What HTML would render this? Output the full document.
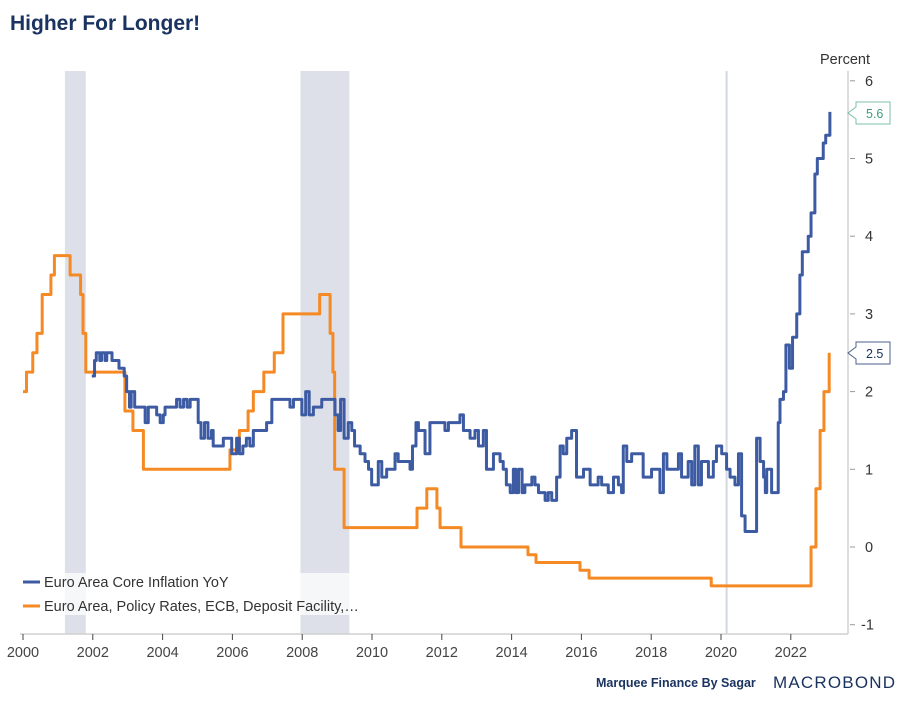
<!DOCTYPE html>
<html><head><meta charset="utf-8"><style>
body{margin:0;background:#fff;width:904px;height:704px;overflow:hidden;font-family:"Liberation Sans",sans-serif}
</style></head><body>
<svg id="chart" width="904" height="704" xmlns="http://www.w3.org/2000/svg" font-family="Liberation Sans, sans-serif">
<text x="10" y="30" font-size="21" font-weight="bold" fill="#1b3360">Higher For Longer!</text>
<g id="bands"></g>
<g id="axes"></g>
<g id="series"></g>
<g id="legend">
<line x1="23" y1="582" x2="40" y2="582" stroke="#3d5ba3" stroke-width="3"/>
<text x="44" y="587" font-size="14.5" fill="#333">Euro Area Core Inflation YoY</text>
<line x1="23" y1="606" x2="40" y2="606" stroke="#f58a25" stroke-width="3"/>
<text x="44" y="611" font-size="14.5" fill="#333">Euro Area, Policy Rates, ECB, Deposit Facility,…</text>
</g>
<text x="820" y="64" font-size="14.5" fill="#333">Percent</text>
<g>
<path d="M848,113 L856,107 L856,102 L890,102 L890,124 L856,124 L856,119 Z" fill="#fff" stroke="#7cc0a8"/>
<text x="866" y="118" font-size="12.5" fill="#3f9b7c">5.6</text>
</g>
<g>
<path d="M848,353 L856,347 L856,342 L890,342 L890,364 L856,364 L856,359 Z" fill="#fff" stroke="#4b5f8f"/>
<text x="866" y="358" font-size="12.5" fill="#1b3360">2.5</text>
</g>
<text x="596" y="687" font-size="12.5" font-weight="bold" fill="#1b3360">Marquee Finance By Sagar</text>
<text x="773" y="688" font-size="17" fill="#1b3360" letter-spacing="1.2">MACROBOND</text>
</svg>
<script>
const xTicks=[2000,2002,2004,2006,2008,2010,2012,2014,2016,2018,2020,2022];
const yTicks=[-1,0,1,2,3,4,5,6];
const recessions=[[2001.2,2001.8],[2007.95,2009.35]];
const markerYear=[2020.16];
const coreYears=[2001.97,2002.05,2002.1,2002.2,2002.25,2002.35,2002.4,2002.55,2002.75,2002.9,2002.97,2003.05,2003.1,2003.2,2003.31,2003.5,2003.59,2003.83,2003.93,2004.02,2004.07,2004.4,2004.5,2004.6,2004.7,2004.79,2005.02,2005.1,2005.2,2005.3,2005.4,2005.45,2005.74,2005.98,2006.12,2006.2,2006.3,2006.4,2006.5,2006.6,2006.98,2007.13,2007.65,2007.75,2007.99,2008.1,2008.2,2008.32,2008.45,2008.56,2008.94,2009.03,2009.1,2009.2,2009.32,2009.42,2009.5,2009.66,2009.8,2009.9,2009.99,2010.18,2010.28,2010.42,2010.66,2010.75,2011.09,2011.16,2011.26,2011.33,2011.52,2011.66,2012.09,2012.19,2012.52,2012.62,2012.81,2012.95,2013.05,2013.19,2013.28,2013.48,2013.67,2013.76,2013.85,2013.96,2014.05,2014.12,2014.2,2014.3,2014.38,2014.58,2014.67,2014.77,2014.96,2015.05,2015.15,2015.29,2015.39,2015.48,2015.58,2015.72,2015.86,2016.06,2016.25,2016.48,2016.58,2016.77,2016.92,2017.06,2017.15,2017.2,2017.3,2017.44,2017.77,2018.01,2018.25,2018.35,2018.45,2018.54,2018.78,2018.87,2019.06,2019.16,2019.25,2019.35,2019.44,2019.64,2019.78,2019.87,2020.02,2020.16,2020.26,2020.4,2020.5,2020.59,2020.69,2021.02,2021.12,2021.22,2021.27,2021.31,2021.45,2021.64,2021.69,2021.79,2021.86,2021.96,2022.05,2022.17,2022.26,2022.33,2022.5,2022.58,2022.69,2022.76,2022.93,2023.0,2023.12];
const coreValues=[2.2,2.4,2.5,2.4,2.5,2.4,2.5,2.4,2.3,2.2,2.0,1.8,2.0,1.8,1.8,1.6,1.8,1.7,1.6,1.7,1.8,1.9,1.8,1.9,1.8,1.9,1.6,1.4,1.6,1.4,1.5,1.3,1.4,1.2,1.4,1.2,1.3,1.4,1.3,1.5,1.6,1.9,1.8,1.9,1.7,2.0,1.7,1.8,1.8,1.9,1.7,1.5,1.9,1.4,1.6,1.5,1.3,1.2,1.1,1.0,0.8,1.1,0.9,1.0,1.2,1.1,1.0,1.3,1.6,1.5,1.2,1.6,1.5,1.6,1.7,1.5,1.4,1.5,1.3,1.5,1.0,1.2,1.1,1.0,0.8,0.7,1.0,0.7,1.0,0.7,0.8,0.9,0.8,0.7,0.6,0.7,0.6,0.9,1.3,1.2,1.4,1.5,0.9,1.0,0.8,0.9,0.8,0.7,0.9,0.8,0.7,1.3,1.1,1.2,0.9,1.0,0.7,1.2,1.0,1.0,1.2,0.9,1.1,0.8,1.3,0.8,1.1,0.9,1.1,1.3,1.2,1.0,0.9,0.8,1.2,0.4,0.2,1.4,1.1,0.9,0.7,1.0,0.7,1.6,1.9,2.0,2.6,2.3,2.7,3.0,3.5,3.8,4.0,4.3,4.8,5.0,5.2,5.3,5.6];
const depoYears=[2000,2000.1,2000.28,2000.4,2000.55,2000.8,2000.9,2001.35,2001.65,2001.72,2001.8,2002.92,2003.15,2003.45,2005.93,2006.2,2006.45,2006.6,2006.9,2007.2,2007.45,2008.5,2008.8,2008.88,2008.93,2009.2,2011.29,2011.57,2011.86,2011.95,2012.55,2014.47,2014.7,2015.96,2016.22,2019.72,2022.58,2022.72,2022.84,2022.95,2023.1];
const depoValues=[2.0,2.25,2.5,2.75,3.25,3.5,3.75,3.5,3.25,2.75,2.25,1.75,1.5,1.0,1.25,1.5,1.75,2.0,2.25,2.5,3.0,3.25,2.75,2.25,1.0,0.25,0.5,0.75,0.5,0.25,0.0,-0.1,-0.2,-0.3,-0.4,-0.5,0.0,0.75,1.5,2.0,2.5];

const NS='http://www.w3.org/2000/svg';
const X0=23,XPY=34.9,PL=20,PR=848,PT=71,PB=634;
const xs=y=>X0+(y-2000)*XPY;
const ys=v=>547-v*77.7;
function mk(tag,attrs,parent){const e=document.createElementNS(NS,tag);for(const k in attrs)e.setAttribute(k,attrs[k]);parent.appendChild(e);return e;}
const bands=document.getElementById('bands'),axes=document.getElementById('axes'),series=document.getElementById('series');
recessions.forEach(r=>{
  const b=mk('rect',{x:xs(r[0]),y:PT,width:xs(r[1])-xs(r[0]),height:PB-PT,fill:'#dde0e8'},bands);
  
  
});
const ov=mk('rect',{x:PL,y:573,width:PR-PL,height:42,fill:'#fff','fill-opacity':0.72},bands);


markerYear.forEach(m=>{
  const l=mk('line',{x1:xs(m),x2:xs(m),y1:PT,y2:PB,stroke:'#d4d8e0','stroke-width':2},bands);
  
  
});
const xa=mk('line',{x1:PL,x2:PR,y1:PB,y2:PB,stroke:'#d0d0d0','stroke-width':1.5},axes);


const ya=mk('line',{x1:PR,x2:PR,y1:PT,y2:PB,stroke:'#d0d0d0','stroke-width':1.5},axes);


xTicks.forEach(t=>{
  mk('line',{x1:xs(t),x2:xs(t),y1:PB,y2:PB+6,stroke:'#444'},axes);
  const tx=mk('text',{x:xs(t),y:657,'font-size':14.5,fill:'#444','text-anchor':'middle'},axes);
  tx.textContent=t;
  
  
});
yTicks.forEach(t=>{
  mk('line',{x1:PR+2,x2:PR+7,y1:ys(t),y2:ys(t),stroke:'#999'},axes);
  const tx=mk('text',{x:t<0?861:865,y:ys(t)+5,'font-size':14.5,fill:'#333'},axes);
  tx.textContent=t;
  
  
});
function stepPath(years,vals){
  let d='M'+xs(years[0])+','+ys(vals[0]);
  for(let i=1;i<years.length;i++){d+=' H'+xs(years[i])+' V'+ys(vals[i]);}
  return d;
}
const pd=mk('path',{d:stepPath(depoYears,depoValues),fill:'none',stroke:'#f58a25','stroke-width':3,'stroke-linejoin':'round'},series);


const pc=mk('path',{d:stepPath(coreYears,coreValues),fill:'none',stroke:'#3d5ba3','stroke-width':3,'stroke-linejoin':'round'},series);


</script>
</body></html>
